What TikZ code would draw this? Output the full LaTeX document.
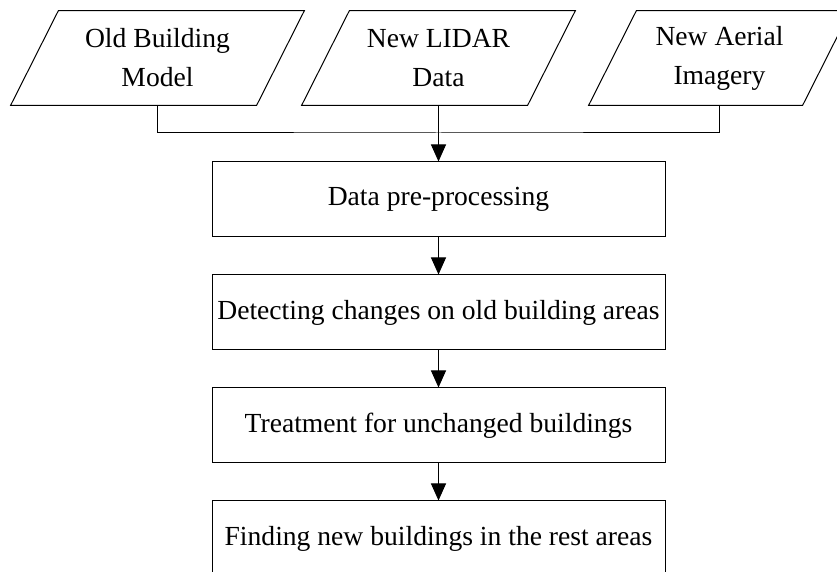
\documentclass[tikz,border=0pt]{standalone}
\usepackage{fontspec}
\setmainfont{Liberation Serif}
\usetikzlibrary{arrows.meta, positioning}
\tikzset{
  inputP/.style={rectangle, minimum height=47pt, inner sep=0pt, align=center,
                 font=\fontsize{13.8}{19.5}\selectfont},
  stepBox/.style={rectangle, draw=black, line width=0.5pt,
                  minimum width=226.5pt, minimum height=37.5pt, inner sep=0pt,
                  font=\fontsize{13.8}{19.5}\selectfont},
  thinL/.style={line width=0.5pt},
  flowA/.style={-{Triangle[length=8.5pt,width=7.5pt]}, line width=0.5pt},
}

\begin{document}
\begin{tikzpicture}[x=0.5pt, y=-0.5pt]
    \useasboundingbox (0,0) rectangle (837,572);
    %% input data
    \node[inputP, minimum width=146.5pt] (in1) at (157.5,58) {Old Building\\Model};
    \node[inputP, minimum width=136.5pt] (in2) at (438.5,58) {New LIDAR\\Data};
    \node[inputP, minimum width=130.5pt] (in3) at (719.5,58) {New Aerial\\Imagery};
    \foreach \n/\s in {in1/246,in2/226,in3/214}{
      \draw[thinL] (\n.south west) -- ++(\s,0) -- (\n.north east) -- ++(-\s,0) -- cycle;
    }
    %% processing steps
    \foreach \i/\txt in {1/Data pre-processing,
                         2/Detecting changes on old building areas,
                         3/Treatment for unchanged buildings,
                         4/Finding new buildings in the rest areas}{
      \node[stepBox] (step\i) at (438.5,{86.5+113*\i}) {\txt};
    }
    %% connectors
    \coordinate (join) at (438.5,133);
    \draw[thinL] (in1.south) |- (join) -| (in3.south);
    \draw[flowA] (in2.south) -- (step1.north);
    \foreach \a/\b in {step1/step2,step2/step3,step3/step4}{
      \draw[flowA] (\a) -- (\b);
    }
\end{tikzpicture}
\end{document}
